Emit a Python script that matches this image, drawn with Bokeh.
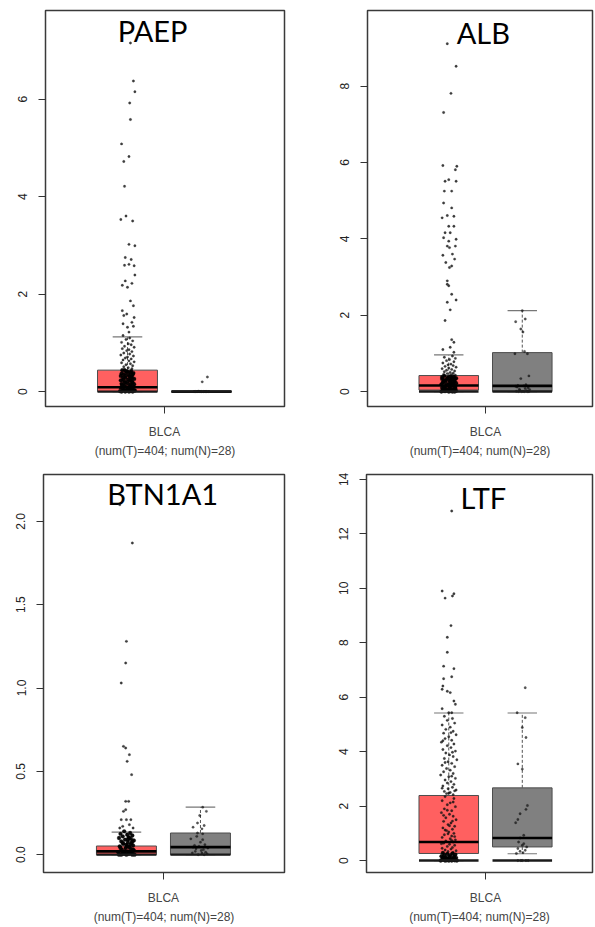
from bokeh.plotting import figure
from bokeh.layouts import column, row
from bokeh.models import ColumnDataSource, FixedTicker, Label, PrintfTickFormatter
from bokeh.embed import file_html
from bokeh.resources import INLINE

CANCER = "BLCA"
COUNT_LABEL = "(num(T)=404; num(N)=28)"
GROUP_COLORS = ["#ff6060", "#808080"]   # Tumor, Normal

# ---------------- PAEP ----------------
PAEP_TICKS = [0, 2, 4, 6]
PAEP_Q1 = [0.0, 0.0]
PAEP_MED = [0.09, 0.0]
PAEP_Q3 = [0.44, 0.005]
PAEP_LO = [0.0, 0.0]
PAEP_HI = [1.12, 0.0]
PAEP_T = [(7.15, 0.04), (6.37, 0.08), (6.15, 0.10), (5.92, 0.03), (5.58, 0.04), (5.08, -0.08),
          (4.72, -0.05), (4.82, 0.02), (4.21, -0.04), (3.53, -0.09), (3.60, -0.02), (3.50, 0.07),
          (3.02, 0.02), (2.99, 0.10), (2.75, -0.03), (2.71, 0.05), (2.59, -0.04), (2.61, 0.02),
          (2.58, 0.09), (2.39, 0.10), (2.27, -0.03), (2.18, -0.07), (2.14, 0.00), (2.22, 0.06),
          (1.86, 0.04), (1.76, 0.08), (1.66, -0.07), (1.59, -0.01), (1.56, -0.05), (1.52, 0.09),
          (1.42, 0.06), (1.39, -0.06), (1.32, 0.00), (1.34, 0.08), (1.22, 0.02),
          (1.15, -0.06), (1.10, 0.03), (1.07, -0.02), (1.04, 0.07), (1.01, -0.08), (0.98, 0.01),
          (0.96, 0.05), (0.93, -0.04), (0.91, 0.09), (0.88, -0.07), (0.86, 0.02), (0.84, -0.01),
          (0.82, 0.06), (0.79, -0.05), (0.77, 0.03), (0.75, -0.09), (0.73, 0.08), (0.71, 0.00),
          (0.69, -0.03), (0.67, 0.05), (0.65, -0.06), (0.63, 0.02), (0.61, 0.09), (0.59, -0.08),
          (0.57, 0.04), (0.55, -0.02), (0.53, 0.07), (0.51, -0.05), (0.49, 0.01), (0.47, 0.06),
          (0.46, -0.04)]
PAEP_T_DENSE = [(0.44, -0.07), (0.42, 0.05), (0.40, -0.01), (0.38, 0.08), (0.36, -0.05), (0.34, 0.02),
                (0.32, -0.09), (0.30, 0.06), (0.28, -0.03), (0.26, 0.09), (0.24, -0.06), (0.22, 0.03),
                (0.20, -0.02), (0.18, 0.07), (0.16, -0.08), (0.14, 0.04), (0.12, -0.04), (0.10, 0.08),
                (0.08, -0.09), (0.06, 0.01), (0.05, 0.06), (0.04, -0.05), (0.03, 0.09), (0.02, -0.02),
                (0.01, 0.04), (0.00, -0.08), (0.00, 0.07), (0.00, -0.03), (0.00, 0.02), (0.01, -0.10),
                (0.02, 0.10), (0.03, -0.06), (0.05, 0.00), (0.07, 0.05), (0.09, -0.01), (0.11, 0.03),
                (0.13, -0.07), (0.15, 0.09), (0.17, 0.00), (0.19, -0.04), (0.21, 0.06), (0.23, -0.09),
                (0.25, 0.01), (0.27, 0.05), (0.29, -0.06), (0.31, 0.03), (0.33, -0.02), (0.35, 0.07),
                (0.37, -0.08), (0.39, 0.04), (0.41, 0.00), (0.43, -0.03)]
PAEP_N = [(0.30, 0.08), (0.20, 0.01), (0.0, -0.10), (0.0, -0.06), (0.0, -0.02), (0.0, 0.03),
          (0.0, 0.07), (0.0, 0.10), (0.01, -0.04), (0.0, 0.05), (0.0, -0.08), (0.0, 0.00)]

# ---------------- ALB ----------------
ALB_TICKS = [0, 2, 4, 6, 8]
ALB_Q1 = [0.04, 0.0]
ALB_MED = [0.16, 0.15]
ALB_Q3 = [0.42, 1.02]
ALB_LO = [0.0, 0.0]
ALB_HI = [0.96, 2.12]
ALB_T = [(9.11, -0.02), (8.52, 0.10), (7.81, 0.03), (7.31, -0.07), (5.92, -0.08), (5.81, 0.09),
         (5.90, 0.11), (5.51, -0.05), (5.55, 0.00), (5.51, 0.10), (5.25, -0.06), (5.25, 0.04),
         (4.94, -0.07), (4.81, 0.04), (4.61, -0.02), (4.59, 0.07), (4.55, -0.09), (4.33, 0.00),
         (4.33, 0.07), (4.16, -0.05), (4.16, 0.02), (4.03, -0.07), (3.99, 0.10), (3.94, 0.00),
         (3.81, -0.02), (3.81, 0.09), (3.77, 0.01), (3.57, -0.08), (3.60, 0.05), (3.47, 0.08),
         (3.38, -0.04), (3.29, 0.04), (3.25, 0.01), (2.90, -0.02), (2.77, 0.00), (2.81, -0.02),
         (2.55, 0.04), (2.40, 0.10), (2.34, -0.02), (2.14, 0.02), (1.86, -0.05), (1.36, 0.04),
         (1.29, 0.07), (1.10, -0.08), (1.16, 0.02), (1.03, 0.07),
         (0.93, 0.05), (0.90, -0.06), (0.87, 0.09), (0.84, 0.01), (0.81, -0.03), (0.78, 0.07),
         (0.75, -0.08), (0.72, 0.03), (0.70, -0.01), (0.68, 0.06), (0.66, -0.05), (0.64, 0.10),
         (0.62, 0.00), (0.60, -0.09), (0.58, 0.04), (0.56, -0.03), (0.54, 0.08), (0.52, -0.06),
         (0.50, 0.02), (0.48, 0.06), (0.47, -0.02), (0.45, -0.07), (0.44, 0.04), (0.43, 0.09)]
ALB_T_DENSE = [(0.41, -0.06), (0.39, 0.07), (0.37, -0.01), (0.35, 0.10), (0.33, -0.09), (0.31, 0.03),
               (0.29, -0.04), (0.27, 0.08), (0.25, -0.07), (0.23, 0.02), (0.21, 0.06), (0.19, -0.10),
               (0.17, 0.04), (0.15, -0.02), (0.13, 0.09), (0.11, -0.06), (0.09, 0.01), (0.07, 0.07),
               (0.05, -0.08), (0.04, 0.04), (0.03, -0.03), (0.02, 0.10), (0.01, -0.05), (0.00, 0.05),
               (0.00, -0.10), (0.00, 0.00), (0.00, 0.08), (0.01, 0.02), (0.02, -0.07), (0.03, 0.07),
               (0.05, 0.00), (0.06, -0.04), (0.08, 0.09), (0.10, -0.09), (0.12, 0.03), (0.14, -0.05),
               (0.16, 0.07), (0.18, 0.00), (0.20, -0.03), (0.22, 0.10), (0.24, -0.08), (0.26, 0.05),
               (0.28, 0.01), (0.30, -0.06), (0.32, 0.08), (0.34, -0.02), (0.36, 0.04), (0.38, -0.09),
               (0.40, 0.02)]
ALB_N = [(2.12, 0.00), (1.90, 0.04), (1.83, -0.09), (1.64, -0.02), (1.56, 0.01), (1.05, 0.03),
         (0.99, -0.10), (0.99, 0.07), (0.41, 0.09), (0.34, -0.02), (0.18, 0.05), (0.16, -0.06),
         (0.15, 0.02), (0.14, -0.09), (0.12, -0.07), (0.10, 0.08), (0.08, 0.04), (0.06, -0.04),
         (0.05, 0.10), (0.03, -0.03), (0.02, 0.06), (0.01, -0.08), (0.01, 0.01), (0.00, 0.09),
         (0.00, -0.05), (0.00, 0.03), (0.00, -0.01), (0.00, 0.07)]

# ---------------- BTN1A1 ----------------
BTN1A1_TICKS = [0.0, 0.5, 1.0, 1.5, 2.0]
BTN1A1_Q1 = [0.0, 0.0]
BTN1A1_MED = [0.02, 0.045]
BTN1A1_Q3 = [0.052, 0.13]
BTN1A1_LO = [0.0, 0.0]
BTN1A1_HI = [0.135, 0.285]
BTN1A1_T = [(2.10, -0.09), (1.87, 0.08), (1.28, 0.00), (1.15, -0.01), (1.03, -0.07), (0.65, -0.04),
            (0.64, -0.01), (0.60, 0.04), (0.56, 0.01), (0.48, 0.07), (0.32, -0.01), (0.32, 0.03),
            (0.27, -0.01), (0.26, -0.04), (0.21, -0.07), (0.21, 0.00), (0.21, 0.06), (0.17, -0.05),
            (0.18, 0.04), (0.16, -0.09), (0.16, 0.09)]
BTN1A1_T_DENSE = [(0.14, -0.03), (0.13, 0.05), (0.125, -0.08), (0.12, 0.01), (0.115, 0.08), (0.11, -0.05),
                  (0.105, 0.03), (0.10, -0.10), (0.095, 0.06), (0.09, -0.02), (0.085, 0.10), (0.08, -0.07),
                  (0.075, 0.02), (0.07, 0.07), (0.065, -0.04), (0.06, 0.00), (0.055, 0.09), (0.05, -0.09),
                  (0.045, 0.04), (0.04, -0.01), (0.035, 0.06), (0.03, -0.06), (0.025, 0.10), (0.02, 0.02),
                  (0.015, -0.11), (0.01, 0.05), (0.005, -0.03), (0.00, 0.08), (0.00, -0.07), (0.00, 0.00),
                  (0.00, 0.11), (0.00, -0.10), (0.005, 0.03), (0.01, -0.05), (0.015, 0.07), (0.02, -0.02),
                  (0.03, 0.09), (0.04, -0.08), (0.05, 0.01), (0.06, 0.05), (0.07, -0.05), (0.08, 0.08),
                  (0.09, 0.02), (0.10, 0.04)]
BTN1A1_N = [(0.285, 0.03), (0.26, 0.08), (0.235, -0.01), (0.19, -0.04), (0.175, 0.05), (0.165, -0.10),
            (0.155, 0.02), (0.13, -0.04), (0.125, 0.03), (0.095, -0.13), (0.075, 0.00), (0.055, -0.08),
            (0.045, -0.10), (0.035, -0.06), (0.025, 0.01), (0.00, 0.05), (0.00, -0.03), (0.005, 0.09),
            (0.01, -0.11), (0.01, 0.02), (0.015, 0.07), (0.02, -0.07), (0.03, 0.04), (0.04, 0.10),
            (0.05, -0.02), (0.06, 0.06), (0.09, 0.03), (0.11, -0.05)]

# ---------------- LTF ----------------
LTF_TICKS = [0, 2, 4, 6, 8, 10, 12, 14]
LTF_Q1 = [0.26, 0.50]
LTF_MED = [0.68, 0.83]
LTF_Q3 = [2.39, 2.67]
LTF_LO = [0.0, 0.25]
LTF_HI = [5.42, 5.42]
LTF_T = [(12.84, 0.04), (9.90, -0.09), (9.64, -0.05), (9.72, 0.05), (9.80, 0.07), (8.63, 0.03),
         (8.20, -0.02), (7.65, -0.02), (7.14, -0.07), (7.05, 0.07), (6.68, -0.07), (6.75, 0.04),
         (6.41, -0.08), (6.29, -0.09), (6.22, -0.02), (6.17, 0.02), (5.86, 0.07), (5.74, 0.09),
         (5.58, -0.09), (5.43, 0.00), (5.43, 0.04),
         (5.30, -0.06), (5.22, 0.05), (5.15, -0.02), (5.05, 0.08), (4.98, -0.09), (4.90, 0.02),
         (4.82, -0.04), (4.75, 0.06), (4.68, -0.07), (4.62, 0.10), (4.55, 0.00), (4.48, -0.05),
         (4.42, 0.04), (4.35, -0.10), (4.28, 0.07), (4.22, -0.02), (4.15, 0.03), (4.08, -0.08),
         (4.02, 0.09), (3.95, -0.04), (3.88, 0.01), (3.82, 0.06), (3.75, -0.06), (3.70, 0.11),
         (3.63, -0.01), (3.57, 0.04), (3.50, -0.09), (3.45, 0.08), (3.38, -0.03), (3.32, 0.02),
         (3.26, -0.07), (3.20, 0.06), (3.14, -0.11), (3.08, 0.00), (3.02, 0.09), (2.96, -0.05),
         (2.90, 0.03), (2.85, -0.02), (2.80, 0.07), (2.74, -0.08), (2.69, 0.05), (2.64, -0.01),
         (2.59, 0.10), (2.54, -0.06), (2.50, 0.02), (2.46, -0.03), (2.42, 0.06), (4.70, 0.03),
         (4.40, -0.08), (3.98, 0.05), (3.60, -0.05), (3.10, 0.04), (2.66, -0.09), (2.56, 0.08),
         (2.48, 0.00),
         (2.35, -0.05), (2.28, 0.07), (2.20, -0.09), (2.12, 0.02), (2.05, -0.02), (1.98, 0.09),
         (1.90, -0.06), (1.83, 0.04), (1.76, -0.10), (1.70, 0.01), (1.63, 0.06), (1.57, -0.04),
         (1.50, 0.10), (1.44, -0.07), (1.38, 0.03), (1.32, -0.01), (1.26, 0.08), (1.20, -0.08),
         (1.15, 0.05), (1.10, -0.03), (1.05, 0.00), (1.00, 0.07), (0.95, -0.06), (0.90, 0.04),
         (0.85, -0.09), (0.80, 0.02), (0.76, 0.09), (0.72, -0.04), (0.68, 0.06), (0.64, -0.07),
         (0.60, 0.01), (0.56, 0.08), (0.52, -0.02), (0.48, 0.05), (0.45, -0.09), (0.42, 0.03),
         (0.39, -0.05), (0.36, 0.10), (0.33, -0.01), (0.30, 0.06), (1.85, -0.02), (1.45, 0.05),
         (1.12, -0.05), (0.88, 0.08), (0.62, -0.10), (2.15, 0.06), (1.66, -0.07), (1.28, 0.01),
         (0.98, -0.01), (0.74, 0.04)]
LTF_T_DENSE = [(0.28, -0.08), (0.26, 0.05), (0.24, -0.02), (0.22, 0.09), (0.20, -0.06), (0.18, 0.02),
               (0.16, -0.10), (0.14, 0.07), (0.12, -0.04), (0.10, 0.10), (0.08, -0.07), (0.06, 0.03),
               (0.05, -0.01), (0.04, 0.06), (0.03, -0.09), (0.02, 0.01), (0.01, 0.08), (0.00, -0.05),
               (0.00, 0.04), (0.00, -0.11), (0.00, 0.11), (0.00, 0.00), (0.01, -0.03), (0.02, 0.09),
               (0.03, -0.06), (0.05, 0.05), (0.07, -0.02), (0.09, 0.07), (0.11, -0.08), (0.13, 0.01)]
LTF_N = [(6.35, 0.04), (5.43, -0.07), (5.25, 0.04), (4.89, 0.00), (4.52, 0.05), (3.55, -0.06),
         (3.36, 0.00), (2.02, 0.07), (1.88, 0.05), (1.72, -0.03), (1.51, -0.06), (1.39, -0.09),
         (0.93, 0.02), (0.83, -0.03), (0.68, -0.05), (0.62, 0.02), (0.56, 0.00), (0.50, 0.06),
         (0.44, -0.06), (0.38, 0.04), (0.34, -0.03), (0.29, 0.01), (0.26, -0.08), (0.00, -0.06),
         (0.00, 0.05), (0.00, 0.00), (0.00, -0.02), (0.00, 0.08)]

POS = [-0.5, 0.5]      # x position of the tumour / normal box around the BLCA tick
BOX_HW = 0.405
CAP_HW = 0.2


def make_panel(gene, ticks, fmt, xr, yr, stats, t_pts, t_dense, n_pts, geom, title_xy):
    W, H, bl, br, bt, bb = geom
    p = figure(width=W, height=H, x_range=xr, y_range=yr, output_backend="svg",
               toolbar_location=None, tools="",
               min_border_left=bl, min_border_right=br, min_border_top=bt, min_border_bottom=bb)
    p.xgrid.visible = False
    p.ygrid.visible = False
    p.background_fill_color = "white"
    p.border_fill_color = "white"
    p.outline_line_color = "#3a3a3a"
    p.outline_line_width = 1.5

    q1, med, q3, lo, hi = stats
    src = ColumnDataSource(dict(
        left=[x - BOX_HW for x in POS], right=[x + BOX_HW for x in POS],
        cl=[x - CAP_HW for x in POS], cr=[x + CAP_HW for x in POS],
        x=POS, q1=q1, med=med, q3=q3, lo=lo, hi=hi, base=[0.0, 0.0], color=GROUP_COLORS))

    p.quad(left="left", right="right", bottom="q1", top="q3", source=src,
           fill_color="color", fill_alpha=1.0, line_color="#4d4d4d", line_width=1)
    p.segment(x0="x", x1="x", y0="q3", y1="hi", source=src, line_color="#555555",
              line_width=1, line_dash="3 2")
    p.segment(x0="x", x1="x", y0="q1", y1="lo", source=src, line_color="#555555",
              line_width=1, line_dash="3 2")
    p.segment(x0="cl", x1="cr", y0="hi", y1="hi", source=src, line_color="#777777", line_width=1.2)
    p.segment(x0="cl", x1="cr", y0="lo", y1="lo", source=src, line_color="#777777", line_width=1.2)

    tx = [POS[0] + d for v, d in t_pts]
    ty = [v for v, d in t_pts]
    p.scatter(tx, ty, size=2.4, fill_color="#111111", line_color="#111111", line_width=0.3, alpha=0.8)
    dx = [POS[0] + d for v, d in t_dense]
    dy = [v for v, d in t_dense]
    p.scatter(dx, dy, size=3.8, fill_color="black", line_color="black", line_width=0.3, alpha=0.95)
    nx = [POS[1] + d for v, d in n_pts]
    ny = [v for v, d in n_pts]
    p.scatter(nx, ny, size=2.4, fill_color="#111111", line_color="#111111", line_width=0.3, alpha=0.7)

    p.segment(x0="left", x1="right", y0="med", y1="med", source=src, line_color="black", line_width=2.6)
    p.segment(x0="left", x1="right", y0="base", y1="base", source=src, line_color="#1a1a1a",
              line_width=2.4)

    # y axis
    ya = p.yaxis[0]
    ya.ticker = FixedTicker(ticks=ticks)
    if fmt:
        ya.formatter = PrintfTickFormatter(format=fmt)
    ya.major_label_orientation = "vertical"
    ya.major_label_text_font = "Liberation Sans"
    ya.major_label_text_font_size = "12px"
    ya.major_label_text_color = "#222222"
    ya.major_label_standoff = 11
    ya.major_tick_out = 7
    ya.major_tick_in = 0
    ya.minor_tick_line_color = None
    ya.major_tick_line_color = "#333333"
    ya.axis_line_color = None

    # x axis
    xa = p.xaxis[0]
    xa.ticker = FixedTicker(ticks=[0])
    xa.major_label_overrides = {0: CANCER}
    xa.major_label_text_font = "Liberation Sans"
    xa.major_label_text_font_size = "12px"
    xa.major_label_text_color = "#444444"
    xa.major_label_standoff = 11
    xa.major_tick_out = 7
    xa.major_tick_in = 0
    xa.minor_tick_line_color = None
    xa.major_tick_line_color = "#333333"
    xa.axis_line_color = None
    xa.axis_label = COUNT_LABEL
    xa.axis_label_text_font = "Liberation Sans"
    xa.axis_label_text_font_size = "12px"
    xa.axis_label_text_font_style = "normal"
    xa.axis_label_text_color = "#444444"
    xa.axis_label_standoff = 2

    p.add_layout(Label(x=title_xy[0], y=title_xy[1], text=gene, text_align="center",
                       text_baseline="middle", text_font="Lato", text_font_size="29px",
                       text_color="black"))
    return p


p1 = make_panel("PAEP", PAEP_TICKS, None, (-1.608, 1.622), (-0.306, 7.816),
                (PAEP_Q1, PAEP_MED, PAEP_Q3, PAEP_LO, PAEP_HI), PAEP_T, PAEP_T_DENSE, PAEP_N,
                (300, 460, 45, 16, 10, 52), (-0.16, 7.41))
p2 = make_panel("ALB", ALB_TICKS, None, (-1.605, 1.455), (-0.391, 9.98),
                (ALB_Q1, ALB_MED, ALB_Q3, ALB_LO, ALB_HI), ALB_T, ALB_T_DENSE, ALB_N,
                (294, 460, 67, 2, 10, 52), (-0.03, 9.41))
p3 = make_panel("BTN1A1", BTN1A1_TICKS, "%.1f", (-1.62, 1.635), (-0.107, 2.281),
                (BTN1A1_Q1, BTN1A1_MED, BTN1A1_Q3, BTN1A1_LO, BTN1A1_HI), BTN1A1_T, BTN1A1_T_DENSE,
                BTN1A1_N, (300, 466, 43, 16, 14, 52), (-0.01, 2.17))
p4 = make_panel("LTF", LTF_TICKS, None, (-1.619, 1.455), (-0.439, 14.181),
                (LTF_Q1, LTF_MED, LTF_Q3, LTF_LO, LTF_HI), LTF_T, LTF_T_DENSE, LTF_N,
                (294, 466, 66, 2, 14, 52), (-0.03, 13.34))

layout = column(row(p1, p2), row(p3, p4))
open("out.html", "w").write(file_html(layout, INLINE))
